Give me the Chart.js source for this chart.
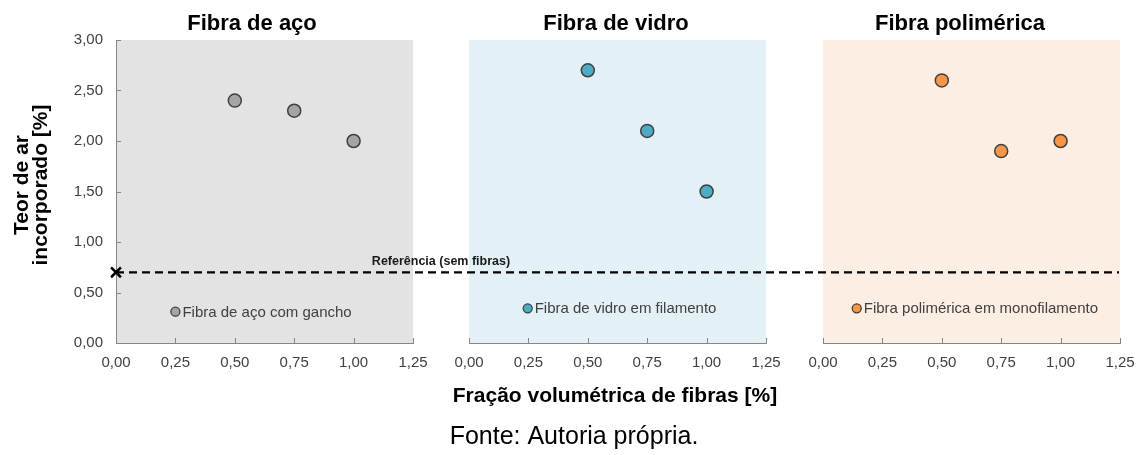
<!DOCTYPE html>
<html>
<head>
<meta charset="utf-8">
<script src="https://cdn.jsdelivr.net/npm/chart.js@4.4.1/dist/chart.umd.min.js"></script>
<style>
  html, body { margin: 0; padding: 0; background: #ffffff; }
  #wrap { position: relative; width: 1141px; height: 455px; overflow: hidden; background: #ffffff; }
  #wrap canvas { position: absolute; left: 0; top: 0; }
</style>
</head>
<body>
<div id="wrap">
  <canvas id="c3" width="1200" height="455" style="z-index:1"></canvas>
  <canvas id="c2" width="1200" height="455" style="z-index:2"></canvas>
  <canvas id="c1" width="1200" height="455" style="z-index:3"></canvas>
</div>
<script>
// ---------------- DATA ----------------
const panelTitles = ['Fibra de aço', 'Fibra de vidro', 'Fibra polimérica'];
const seriesNames = ['Fibra de aço com gancho', 'Fibra de vidro em filamento', 'Fibra polimérica em monofilamento'];
const fiberFractions = [0.50, 0.75, 1.00];
const steelAir = [2.40, 2.30, 2.00];
const glassAir = [2.70, 2.10, 1.50];
const polymerAir = [2.60, 1.90, 2.00];
const referenceFraction = 0.00;
const referenceAir = 0.70;
const referenceLabel = 'Referência (sem fibras)';
const xAxisTitle = 'Fração volumétrica de fibras [%]';
const yAxisTitle = ['Teor de ar', 'incorporado [%]'];
const sourceNote = 'Fonte: Autoria própria.';
const xRange = [0, 1.25];
const xStep = 0.25;
const yRange = [0, 3];
const yStep = 0.5;

// ---------------- LAYOUT / STYLE ----------------
const CW = 1200, H = 455;   // canvas size (page clips at 1141)
const plotTop = 40, plotBottom = 343;
const xAxisH = 40, yAxisW = 60;
const FONT = '"Liberation Sans", Arial, sans-serif';
const tickColor = '#404040';
const axisColor = '#868686';
const panels = [
  { values: steelAir,   left: 116, right: 413, bg: '#e3e3e3', fill: '#a5a5a5', titleX: 252, legendAt: { x: 0.25,  y: 0.31 } },
  { values: glassAir,   left: 469, right: 766, bg: '#e3f1f6', fill: '#4bacc6', titleX: 616, legendAt: { x: 0.247, y: 0.343 } },
  { values: polymerAir, left: 823, right: 1120, bg: '#fdeee3', fill: '#f79646', titleX: 960, legendAt: { x: 0.142, y: 0.343 } }
];
const lineEndX = 1119;
const refLabelCenterX = 441;

const fmt = v => Number(v).toFixed(2).replace('.', ',');

function makePlugin(i) {
  const p = panels[i];
  return {
    id: 'panelDeco' + i,
    beforeDraw(chart) {
      const { ctx, chartArea: a } = chart;
      ctx.save();
      ctx.fillStyle = p.bg;
      ctx.fillRect(a.left, a.top, a.right - a.left, a.bottom - a.top);
      ctx.restore();
    },
    beforeDatasetsDraw(chart) {
      if (i !== 0) return;
      const { ctx, scales } = chart;
      const y = scales.y.getPixelForValue(referenceAir);
      const x0 = scales.x.getPixelForValue(referenceFraction);
      ctx.save();
      ctx.strokeStyle = '#000000';
      ctx.lineWidth = 2.3;
      ctx.setLineDash([8, 5]);
      ctx.beginPath();
      ctx.moveTo(x0, y);
      ctx.lineTo(lineEndX, y);
      ctx.stroke();
      ctx.restore();
    },
    afterDraw(chart) {
      const { ctx, scales, chartArea: a } = chart;
      ctx.save();
      // inner tick marks
      ctx.strokeStyle = axisColor;
      ctx.lineWidth = 1;
      ctx.beginPath();
      scales.x.ticks.forEach(t => {
        const x = Math.round(scales.x.getPixelForValue(t.value)) + 0.5;
        ctx.moveTo(x, a.bottom);
        ctx.lineTo(x, a.bottom - 5);
      });
      if (i === 0) {
        scales.y.ticks.forEach(t => {
          const y = Math.round(scales.y.getPixelForValue(t.value)) + 0.5;
          ctx.moveTo(a.left, y);
          ctx.lineTo(a.left + 5, y);
        });
      }
      ctx.stroke();

      // panel title
      ctx.fillStyle = '#000000';
      ctx.font = 'bold 22px ' + FONT;
      ctx.textAlign = 'center';
      ctx.textBaseline = 'alphabetic';
      ctx.fillText(panelTitles[i], p.titleX, 30);

      // legend label text
      const lx = scales.x.getPixelForValue(p.legendAt.x);
      const ly = scales.y.getPixelForValue(p.legendAt.y);
      ctx.fillStyle = tickColor;
      ctx.font = '15px ' + FONT;
      ctx.textAlign = 'left';
      ctx.textBaseline = 'middle';
      ctx.fillText(seriesNames[i], lx + 7, ly + 1);

      if (i === 0) {
        // reference label
        const ry = scales.y.getPixelForValue(referenceAir);
        ctx.fillStyle = '#1a1a1a';
        ctx.font = 'bold 12.5px ' + FONT;
        ctx.textAlign = 'center';
        ctx.textBaseline = 'alphabetic';
        ctx.fillText(referenceLabel, refLabelCenterX, ry - 7);

        // y axis title
        ctx.fillStyle = '#000000';
        ctx.font = 'bold 21px ' + FONT;
        const cy = 185;
        [28, 47].forEach((bx, k) => {
          ctx.save();
          ctx.translate(bx, cy);
          ctx.rotate(-Math.PI / 2);
          ctx.textAlign = 'center';
          ctx.textBaseline = 'alphabetic';
          ctx.fillText(yAxisTitle[k], 0, 0);
          ctx.restore();
        });

        // x axis title
        ctx.textAlign = 'center';
        ctx.fillText(xAxisTitle, 615, 402);

        // source note
        ctx.font = '25px ' + FONT;
        ctx.fillStyle = '#000000';
        ctx.fillText(sourceNote, 574, 444);
      }
      ctx.restore();
    }
  };
}

function makeChart(i) {
  const p = panels[i];
  const datasets = [
    {
      label: seriesNames[i],
      data: fiberFractions.map((x, j) => ({ x: x, y: p.values[j] })),
      pointRadius: 6.5,
      pointHoverRadius: 6.5,
      pointBorderWidth: 1.5,
      pointBackgroundColor: p.fill,
      pointBorderColor: '#404040',
      showLine: false
    },
    {
      label: seriesNames[i] + ' (legenda)',
      data: [{ x: p.legendAt.x, y: p.legendAt.y }],
      pointRadius: 4.5,
      pointBorderWidth: 1.3,
      pointBackgroundColor: p.fill,
      pointBorderColor: '#404040',
      showLine: false
    }
  ];
  if (i === 0) {
    datasets.push({
      label: referenceLabel,
      data: [{ x: referenceFraction, y: referenceAir }],
      pointStyle: 'crossRot',
      pointRadius: 7,
      pointBorderWidth: 2.5,
      pointBorderColor: '#000000',
      pointBackgroundColor: '#000000',
      showLine: false,
      clip: false
    });
  }
  const yScale = {
    type: 'linear',
    display: i === 0,
    min: yRange[0], max: yRange[1],
    grid: { display: false, drawTicks: false },
    border: { display: true, color: axisColor, width: 1 },
    ticks: {
      stepSize: yStep, padding: 13, color: tickColor,
      font: { family: FONT, size: 15 },
      callback: v => fmt(v)
    }
  };
  if (i === 0) yScale.afterFit = s => { s.width = yAxisW; };
  return new Chart(document.getElementById('c' + (i + 1)), {
    type: 'scatter',
    data: { datasets },
    options: {
      responsive: false,
      animation: false,
      devicePixelRatio: 1,
      layout: {
        padding: {
          left: i === 0 ? p.left - yAxisW : p.left,
          right: CW - p.right,
          top: plotTop,
          bottom: H - plotBottom - xAxisH
        }
      },
      plugins: { legend: { display: false }, tooltip: { enabled: false }, title: { display: false } },
      scales: {
        x: {
          type: 'linear',
          min: xRange[0], max: xRange[1],
          afterFit(s) { s.height = xAxisH; },
          grid: { display: false, drawTicks: false },
          border: { display: true, color: axisColor, width: 1 },
          ticks: {
            stepSize: xStep, padding: 11, color: tickColor,
            font: { family: FONT, size: 15 },
            maxRotation: 0, autoSkip: false,
            callback: v => fmt(v)
          }
        },
        y: yScale
      }
    },
    plugins: [makePlugin(i)]
  });
}

[0, 1, 2].forEach(makeChart);
</script>
</body>
</html>
